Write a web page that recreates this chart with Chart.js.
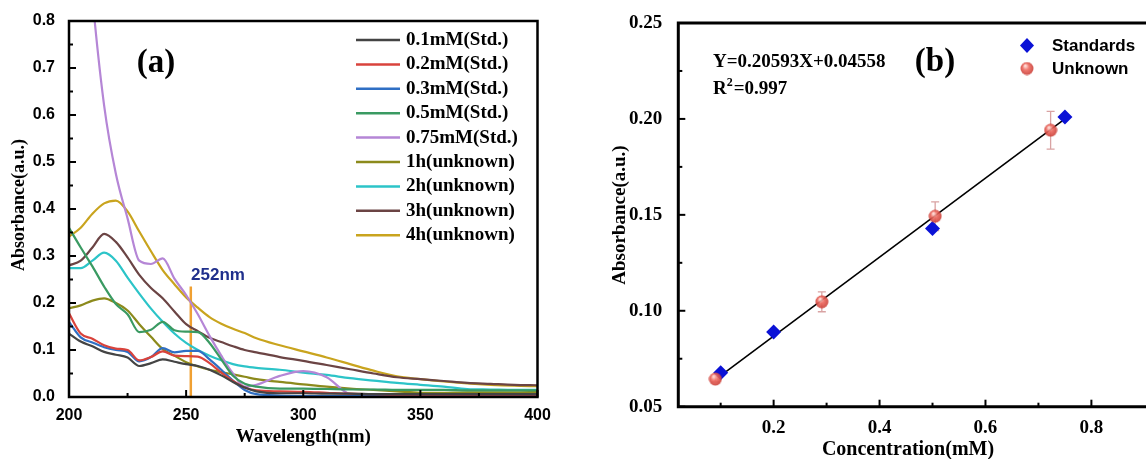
<!DOCTYPE html>
<html lang="en">
<head>
<meta charset="UTF-8">
<title>UV-Vis spectra and calibration curve</title>
<script src="https://cdn.jsdelivr.net/npm/chart.js"></script>
<style>
    body { margin: 0; background: #fff; }
    #wrap { position: relative; width: 1146px; height: 459px; overflow: hidden; }
    #spectra { position: absolute; left: 0; top: 0; }
    #calib { position: absolute; left: 570px; top: 0; }
</style>
</head>
<body>
<div id="wrap">
    <canvas id="spectra" width="570" height="459"></canvas>
    <canvas id="calib" width="576" height="459"></canvas>
</div>

<script>
// ---- panel (a): absorption spectra ----
const WAVELENGTH = [200, 205, 210, 215, 220, 225, 230, 235, 240, 245, 250, 255, 260, 265, 270, 275, 280,
                    290, 300, 310, 320, 330, 340, 350, 360, 370, 380, 390, 400];

const ABS_01MM  = [0.135, 0.118, 0.108, 0.096, 0.090, 0.084, 0.066, 0.072, 0.080, 0.075, 0.070, 0.066, 0.058, 0.046, 0.032, 0.020, 0.012,
                   0.008, 0.008, 0.007, 0.007, 0.006, 0.006, 0.006, 0.006, 0.006, 0.006, 0.006, 0.006];
const ABS_02MM  = [0.178, 0.135, 0.124, 0.110, 0.103, 0.100, 0.078, 0.085, 0.097, 0.088, 0.087, 0.086, 0.072, 0.052, 0.034, 0.020, 0.014,
                   0.012, 0.011, 0.009, 0.007, 0.006, 0.005, 0.005, 0.005, 0.005, 0.005, 0.005, 0.005];
const ABS_03MM  = [0.160, 0.127, 0.116, 0.106, 0.100, 0.096, 0.076, 0.085, 0.104, 0.095, 0.098, 0.098, 0.080, 0.058, 0.035, 0.015, 0.006,
                   0.003, 0.002, 0.002, 0.002, 0.002, 0.002, 0.002, 0.002, 0.002, 0.002, 0.002, 0.002];
const ABS_05MM  = [0.360, 0.318, 0.278, 0.235, 0.198, 0.176, 0.138, 0.143, 0.160, 0.142, 0.139, 0.138, 0.115, 0.080, 0.045, 0.028, 0.022,
                   0.018, 0.018, 0.017, 0.016, 0.016, 0.015, 0.015, 0.015, 0.014, 0.014, 0.014, 0.014];
const ABS_075MM = [1.600, 1.150, 0.850, 0.620, 0.475, 0.380, 0.290, 0.283, 0.295, 0.252, 0.217, 0.176, 0.130, 0.088, 0.050, 0.022, 0.026,
                   0.045, 0.055, 0.042, 0.006, 0.003, 0.002, 0.002, 0.002, 0.002, 0.002, 0.002, 0.002];
const ABS_1H    = [0.189, 0.195, 0.205, 0.210, 0.200, 0.184, 0.155, 0.128, 0.102, 0.088, 0.074, 0.065, 0.058, 0.053, 0.048, 0.043, 0.038,
                   0.032, 0.027, 0.022, 0.018, 0.015, 0.012, 0.009, 0.009, 0.010, 0.010, 0.010, 0.011];
const ABS_2H    = [0.274, 0.274, 0.290, 0.307, 0.290, 0.254, 0.220, 0.188, 0.160, 0.135, 0.115, 0.100, 0.088, 0.078, 0.070, 0.065, 0.062,
                   0.058, 0.052, 0.047, 0.040, 0.035, 0.030, 0.026, 0.022, 0.017, 0.016, 0.015, 0.015];
const ABS_3H    = [0.280, 0.290, 0.318, 0.347, 0.330, 0.297, 0.260, 0.232, 0.210, 0.182, 0.155, 0.140, 0.126, 0.117, 0.108, 0.100, 0.095,
                   0.085, 0.077, 0.068, 0.059, 0.050, 0.042, 0.038, 0.034, 0.030, 0.028, 0.026, 0.025];
const ABS_4H    = [0.341, 0.360, 0.390, 0.412, 0.418, 0.395, 0.352, 0.310, 0.270, 0.240, 0.212, 0.190, 0.170, 0.156, 0.145, 0.136, 0.125,
                   0.110, 0.097, 0.084, 0.070, 0.056, 0.044, 0.038, 0.033, 0.029, 0.026, 0.024, 0.023];

const SPECTRA_LABELS = ['0.1mM(Std.)', '0.2mM(Std.)', '0.3mM(Std.)', '0.5mM(Std.)', '0.75mM(Std.)',
                        '1h(unknown)', '2h(unknown)', '3h(unknown)', '4h(unknown)'];
const SPECTRA_VALUES = [ABS_01MM, ABS_02MM, ABS_03MM, ABS_05MM, ABS_075MM, ABS_1H, ABS_2H, ABS_3H, ABS_4H];
const SPECTRA_COLORS = ['#444444', '#d9433c', '#2f6fc4', '#3a9a62', '#b586d6',
                        '#8c8a1c', '#2cc4c8', '#6b4444', '#c9a41e'];

const MARKER_NM = 252;       // wavelength used for the calibration
const MARKER_TOP = 0.235;

// ---- panel (b): calibration ----
const STD_CONC = [0.1, 0.2, 0.5, 0.75];
const STD_ABS  = [0.0677, 0.089, 0.1429, 0.201];
const UNK_CONC = [0.09, 0.291, 0.505, 0.723];
const UNK_ABS  = [0.0644, 0.1047, 0.1493, 0.1941];
const UNK_ERR  = [0.0015, 0.0052, 0.0075, 0.0098];
const FIT_SLOPE = 0.20593;
const FIT_INTERCEPT = 0.04558;
const FIT_RANGE = [0.1, 0.75];

const SERIF = "'Liberation Serif', 'Times New Roman', serif";
const SANS = "'Liberation Sans', Arial, sans-serif";

function label(ctx, str, x, y, font, color, align, rot) {
    ctx.save();
    ctx.font = font;
    ctx.fillStyle = color || '#000';
    ctx.textAlign = align || 'center';
    ctx.textBaseline = 'middle';
    ctx.translate(x, y);
    if (rot) ctx.rotate(rot);
    ctx.fillText(str, 0, 0);
    ctx.restore();
}

// black frame with inward major/minor ticks on the bottom and left axes
function drawFrame(chart, frameWidth, closed) {
    const { ctx, chartArea: a, scales: { x, y } } = chart;
    ctx.save();
    ctx.strokeStyle = '#000';
    ctx.lineWidth = 2;
    const stroke = (x0, y0, x1, y1) => { ctx.beginPath(); ctx.moveTo(x0, y0); ctx.lineTo(x1, y1); ctx.stroke(); };
    const xt = x.ticks.map(t => t.value);
    const yt = y.ticks.map(t => t.value);
    const xStep = xt[1] - xt[0], yStep = yt[1] - yt[0];
    xt.forEach(v => stroke(x.getPixelForValue(v), a.bottom, x.getPixelForValue(v), a.bottom - 7));
    yt.forEach(v => stroke(a.left, y.getPixelForValue(v), a.left + 7, y.getPixelForValue(v)));
    for (let v = xt[0] - xStep / 2; v < x.max; v += xStep) {
        if (v > x.min) stroke(x.getPixelForValue(v), a.bottom, x.getPixelForValue(v), a.bottom - 4);
    }
    for (let v = yt[0] - yStep / 2; v < y.max; v += yStep) {
        if (v > y.min) stroke(a.left, y.getPixelForValue(v), a.left + 4, y.getPixelForValue(v));
    }
    ctx.lineWidth = frameWidth;
    ctx.beginPath();
    if (closed) {
        ctx.rect(a.left, a.top, a.right - a.left, a.bottom - a.top);
    } else {
        ctx.moveTo(a.right + 10, a.top);
        ctx.lineTo(a.left, a.top);
        ctx.lineTo(a.left, a.bottom);
        ctx.lineTo(a.right + 10, a.bottom);
    }
    ctx.stroke();
    ctx.restore();
}

const tickFontA = { family: SANS, size: 16, weight: 'bold' };
const tickFontB = { family: SERIF, size: 19, weight: 'bold' };

const spectraDatasets = SPECTRA_VALUES.map((vals, i) => ({
    label: SPECTRA_LABELS[i],
    data: WAVELENGTH.map((w, j) => ({ x: w, y: vals[j] })),
    borderColor: SPECTRA_COLORS[i],
    borderWidth: 2.2,
    pointRadius: 0,
    cubicInterpolationMode: 'monotone'
}));
spectraDatasets.push({
    label: 'marker',
    data: [{ x: MARKER_NM, y: 0 }, { x: MARKER_NM, y: MARKER_TOP }],
    borderColor: '#f0a032',
    borderWidth: 2.5,
    pointRadius: 0
});

const spectraDecor = {
    id: 'spectraDecor',
    afterDraw(chart) {
        const ctx = chart.ctx, a = chart.chartArea;
        drawFrame(chart, 2.5, true);
        label(ctx, 'Wavelength(nm)', (a.left + a.right) / 2, 437, `bold 19px ${SERIF}`);
        label(ctx, 'Absorbance(a.u.)', 19, 205, `bold 18px ${SERIF}`, '#000', 'center', -Math.PI / 2);
        label(ctx, '(a)', 156, 63, `bold 33px ${SERIF}`);
        label(ctx, MARKER_NM + 'nm', 218, 275, `bold 17px ${SANS}`, '#1f2f8c');
        // legend
        SPECTRA_LABELS.forEach((name, i) => {
            const yy = 40 + i * 24.4;
            ctx.save();
            ctx.strokeStyle = SPECTRA_COLORS[i];
            ctx.lineWidth = 2.5;
            ctx.beginPath(); ctx.moveTo(356, yy); ctx.lineTo(400, yy); ctx.stroke();
            ctx.restore();
            label(ctx, name, 406, yy, `bold 19px ${SERIF}`, '#000', 'left');
        });
    }
};

new Chart(document.getElementById('spectra'), {
    type: 'line',
    data: { datasets: spectraDatasets },
    options: {
        responsive: false,
        animation: false,
        layout: { padding: { top: 21, right: 32.5, left: 0, bottom: 0 } },
        plugins: { legend: { display: false }, tooltip: { enabled: false } },
        scales: {
            x: {
                type: 'linear', min: 200, max: 400,
                grid: { display: false }, border: { display: false },
                ticks: { stepSize: 50, font: tickFontA, color: '#000', padding: 1 },
                afterFit: s => { s.height = 62; }
            },
            y: {
                min: 0, max: 0.8,
                grid: { display: false }, border: { display: false },
                ticks: { stepSize: 0.1, font: tickFontA, color: '#000', padding: 6, callback: v => v.toFixed(1) },
                afterFit: s => { s.width = 69; }
            }
        }
    },
    plugins: [spectraDecor]
});

// shaded red ball for the unknown samples
function makeBall(d) {
    const c = document.createElement('canvas');
    c.width = c.height = d;
    const g = c.getContext('2d');
    const r = d / 2;
    const grad = g.createRadialGradient(r * 0.75, r * 0.6, r * 0.1, r, r, r);
    grad.addColorStop(0, '#ffd8d2');
    grad.addColorStop(0.4, '#ee6a60');
    grad.addColorStop(1, '#c63a33');
    g.globalAlpha = 0.9;
    g.fillStyle = grad;
    g.beginPath(); g.arc(r, r, r - 0.5, 0, Math.PI * 2); g.fill();
    return c;
}
const ball = makeBall(14);

const errorBars = {
    id: 'errorBars',
    beforeDatasetsDraw(chart) {
        const { ctx, scales: { x, y } } = chart;
        ctx.save();
        ctx.strokeStyle = '#d9a3a3';
        ctx.lineWidth = 1.3;
        UNK_CONC.forEach((c, i) => {
            const px = x.getPixelForValue(c);
            const hi = y.getPixelForValue(UNK_ABS[i] + UNK_ERR[i]);
            const lo = y.getPixelForValue(UNK_ABS[i] - UNK_ERR[i]);
            ctx.beginPath();
            ctx.moveTo(px, hi); ctx.lineTo(px, lo);
            ctx.moveTo(px - 4, hi); ctx.lineTo(px + 4, hi);
            ctx.moveTo(px - 4, lo); ctx.lineTo(px + 4, lo);
            ctx.stroke();
        });
        ctx.restore();
    }
};

const calibDecor = {
    id: 'calibDecor',
    afterDraw(chart) {
        const ctx = chart.ctx;
        drawFrame(chart, 3, false);
        label(ctx, 'Concentration(mM)', 338, 450, `bold 20px ${SERIF}`);
        label(ctx, 'Absorbance(a.u.)', 50, 215, `bold 19px ${SERIF}`, '#000', 'center', -Math.PI / 2);
        label(ctx, '(b)', 365, 62, `bold 33px ${SERIF}`);
        label(ctx, `Y=${FIT_SLOPE}X+${FIT_INTERCEPT}`, 143, 62, `bold 19px ${SERIF}`, '#000', 'left');
        // R² line with a raised 2
        ctx.save();
        ctx.font = `bold 19px ${SERIF}`;
        const wR = ctx.measureText('R').width;
        ctx.restore();
        label(ctx, 'R', 143, 89, `bold 19px ${SERIF}`, '#000', 'left');
        label(ctx, '2', 143 + wR, 83, `bold 12px ${SERIF}`, '#000', 'left');
        label(ctx, '=0.997', 143 + wR + 7, 89, `bold 19px ${SERIF}`, '#000', 'left');
        // legend
        ctx.save();
        ctx.fillStyle = '#0b12d6';
        ctx.beginPath();
        ctx.moveTo(457, 38); ctx.lineTo(464, 45.5); ctx.lineTo(457, 53); ctx.lineTo(450, 45.5);
        ctx.closePath(); ctx.fill();
        ctx.drawImage(ball, 457 - 7, 68.5 - 7);
        ctx.restore();
        label(ctx, 'Standards', 482, 46, `bold 17px ${SANS}`, '#000', 'left');
        label(ctx, 'Unknown', 482, 69, `bold 17px ${SANS}`, '#000', 'left');
    }
};

new Chart(document.getElementById('calib'), {
    type: 'scatter',
    data: {
        datasets: [
            {
                label: 'Unknown',
                data: UNK_CONC.map((c, i) => ({ x: c, y: UNK_ABS[i] })),
                pointStyle: ball,
                pointRadius: 7
            },
            {
                label: 'Standards',
                data: STD_CONC.map((c, i) => ({ x: c, y: STD_ABS[i] })),
                pointStyle: 'rectRot',
                pointRadius: 7.5,
                backgroundColor: '#0b12d6',
                borderColor: '#0b12d6',
                borderWidth: 0
            },
            {
                type: 'line',
                label: 'Fit',
                data: FIT_RANGE.map(c => ({ x: c, y: FIT_SLOPE * c + FIT_INTERCEPT })),
                borderColor: '#000',
                borderWidth: 1.6,
                pointRadius: 0
            }
        ]
    },
    options: {
        responsive: false,
        animation: false,
        layout: { padding: { top: 23, right: 0, left: 0, bottom: 0 } },
        plugins: { legend: { display: false }, tooltip: { enabled: false } },
        scales: {
            x: {
                type: 'linear', min: 0.02, max: 0.888,
                grid: { display: false }, border: { display: false },
                ticks: { stepSize: 0.2, includeBounds: false, font: tickFontB, color: '#000', padding: 2,
                         callback: v => v.toFixed(1) },
                afterFit: s => { s.height = 52.3; }
            },
            y: {
                min: 0.05, max: 0.25,
                grid: { display: false }, border: { display: false },
                ticks: { stepSize: 0.05, font: tickFontB, color: '#000', padding: 8, callback: v => v.toFixed(2) },
                afterFit: s => { s.width = 108.3; }
            }
        }
    },
    plugins: [errorBars, calibDecor]
});
</script>
</body>
</html>
